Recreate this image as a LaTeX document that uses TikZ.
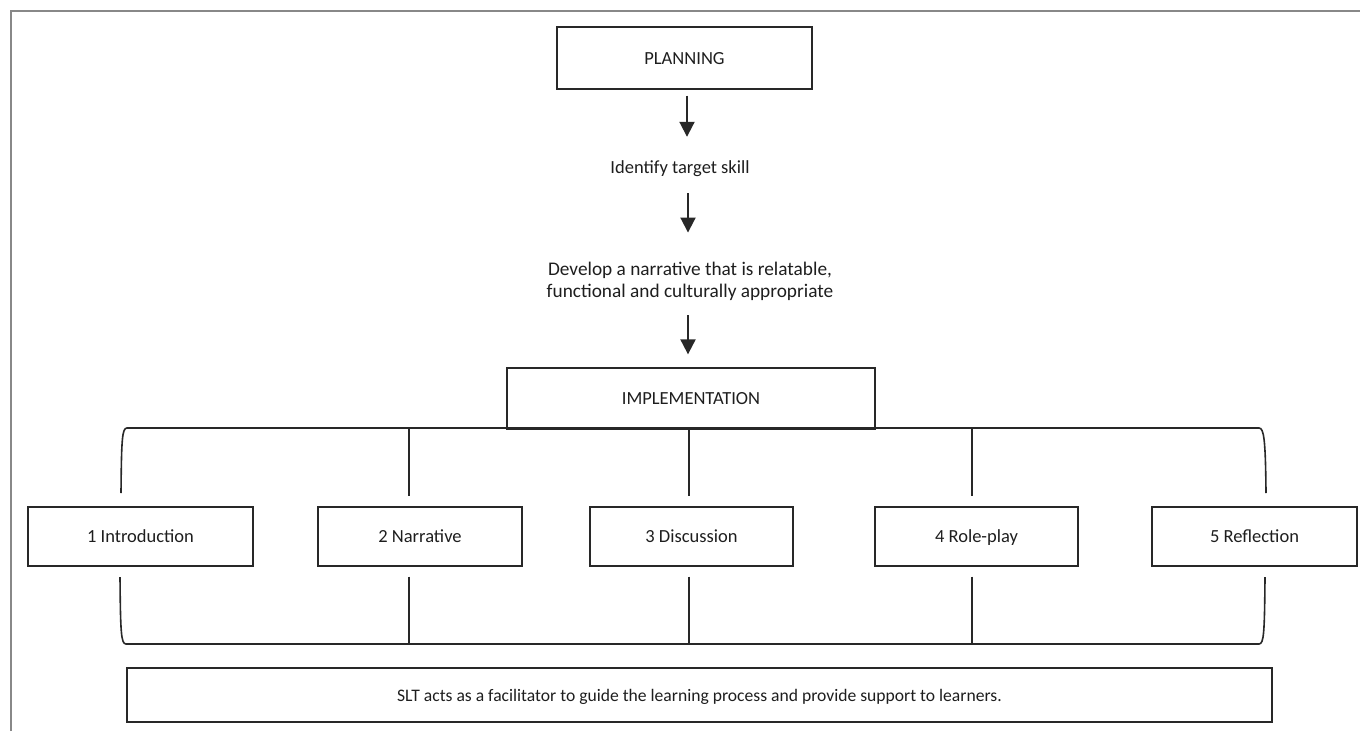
\documentclass[tikz,border=0pt]{standalone}
\usepackage{fontspec}
\setmainfont{Carlito}
\usepackage{tikz}
\usetikzlibrary{positioning,arrows.meta,calc}
\definecolor{frameclr}{RGB}{136,136,136}
\definecolor{lineclr}{RGB}{40,40,40}
\definecolor{txtclr}{RGB}{30,30,30}
\tikzset{
    box/.style={rectangle,draw=lineclr,line width=1.3pt,inner sep=2pt,text=txtclr,text height=15pt,text depth=3pt},
    txt/.style={inner sep=0pt,text=txtclr,text height=15pt,text depth=3pt},
    arr/.style={-{Triangle[width=15pt,length=15pt]},line width=2pt,draw=lineclr},
    link/.style={line width=1.3pt,draw=lineclr},
    brace/.style={line width=1.6pt,draw=lineclr},
    frame/.style={line width=2pt,draw=frameclr},
}

\begin{document}
\begin{tikzpicture}[x=1pt,y=-1pt,every node/.style={font=\fontsize{18.5}{22.5}\selectfont}]
\useasboundingbox (0,0) rectangle (1360,731);
% page frame
\draw[frame] (11,731) -- (11,11) -- (1360,11);

% planning column
\node[box,minimum width=255pt,minimum height=62pt] (plan) at (684.5,58) {PLANNING};
\node[txt] (ident) at (680,167) {Identify target skill};
\node[inner sep=0pt,text=txtclr,align=center,font=\fontsize{19.3}{22}\selectfont] (narr) at (690,281)
    {Develop a narrative that is relatable,\\functional and culturally appropriate};
\node[box,minimum width=368pt,minimum height=61pt] (impl) at (691,398.5) {IMPLEMENTATION};

\draw[arr,shorten <=6pt,shorten >=21pt] ([xshift=2.5pt]plan.south) -- ([xshift=2.5pt]plan.south |- ident.north);
\draw[arr,shorten <=17pt,shorten >=29pt] ([xshift=8pt]ident.south) -- ([xshift=8pt]ident.south |- narr.north);
\draw[arr,shorten <=15pt,shorten >=13pt] ([xshift=-2pt]narr.south) -- ([xshift=-2pt]narr.south |- impl.north);

% steps
\node[box,minimum width=225pt,minimum height=59pt] (intro) at (140.5,536.5) {1 Introduction};
\node[box,minimum width=204pt,minimum height=59pt] (story) at (420,536.5) {2 Narrative};
\node[box,minimum width=203pt,minimum height=59pt] (disc)  at (691.5,536.5) {3 Discussion};
\node[box,minimum width=203pt,minimum height=59pt] (role)  at (976.5,536.5) {4 Role-play};
\node[box,minimum width=205pt,minimum height=59pt] (refl)  at (1254.5,536.5) {5 Reflection};

% brackets
\coordinate (t2) at (409,428);
\coordinate (t3) at (689,428);
\coordinate (t4) at (972,428);
\coordinate (u2) at (409,644);
\coordinate (u3) at (689,644);
\coordinate (u4) at (972,644);
\draw[brace] (121,493) .. controls (121.5,440) and (122,428) .. (127,428) -- (1259,428)
    .. controls (1264,428) and (1265.5,440) .. (1266,493);
\draw[brace] (120,577) .. controls (120.5,632) and (121,644) .. (126,644) -- (1259,644)
    .. controls (1264,644) and (1264.5,632) .. (1265,577);

\draw[link,shorten >=10pt] (t2) -- (t2 |- story.north);
\draw[link,shorten >=10pt] (t3) -- (t3 |- disc.north);
\draw[link,shorten >=10pt] (t4) -- (t4 |- role.north);
\draw[link,shorten <=10pt] (u2 |- story.south) -- (u2);
\draw[link,shorten <=10pt] (u3 |- disc.south) -- (u3);
\draw[link,shorten <=10pt] (u4 |- role.south) -- (u4);

% facilitator
\node[box,minimum width=1145pt,minimum height=54pt,font=\fontsize{17.6}{21}\selectfont] (slt) at (699.5,695)
    {SLT acts as a facilitator to guide the learning process and provide support to learners.};
\end{tikzpicture}
\end{document}
